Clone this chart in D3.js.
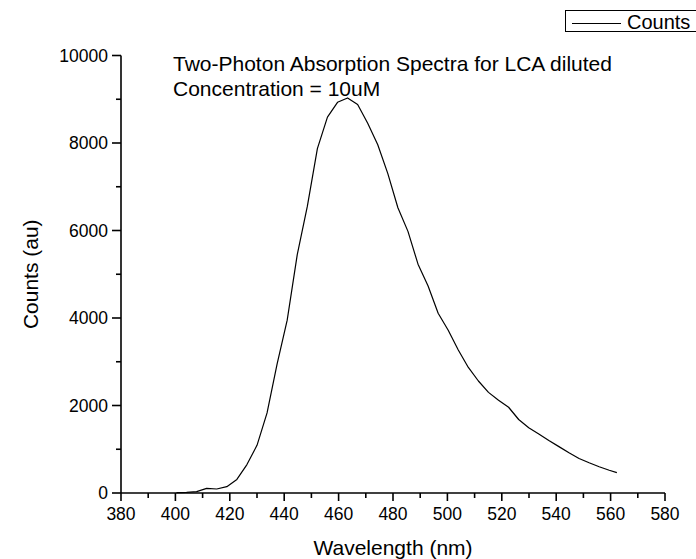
<!DOCTYPE html>
<html>
<head>
<meta charset="utf-8">
<script src="https://cdn.jsdelivr.net/npm/d3@7"></script>
<style>
  html, body { margin: 0; padding: 0; background: #fff; }
  svg { display: block; font-family: "Liberation Sans", Arial, sans-serif; }
</style>
</head>
<body>
<svg id="chart" width="696" height="559"></svg>
<script>
// Emission spectrum: wavelength (nm) and detector counts
const wavelength = [400.4, 404.1, 407.8, 411.5, 415.2, 418.9, 422.6, 426.3, 430.0, 433.7,
  437.4, 441.1, 444.8, 448.5, 452.2, 455.9, 459.6, 463.3, 467.0, 470.7,
  474.4, 478.1, 481.8, 485.5, 489.2, 492.9, 496.6, 500.3, 504.0, 507.7,
  511.4, 515.1, 518.8, 522.5, 526.2, 529.9, 533.6, 537.3, 541.0, 544.7,
  548.4, 552.1, 555.8, 559.5, 562.3];
const counts = [10, 15, 30, 105, 92, 145, 310, 650, 1090, 1830,
  2950, 3950, 5450, 6550, 7870, 8590, 8930, 9030, 8880, 8450,
  7960, 7300, 6520, 5980, 5230, 4730, 4110, 3720, 3270, 2870,
  2560, 2300, 2120, 1960, 1680, 1490, 1350, 1200, 1060, 920,
  790, 690, 600, 520, 465];
const xTicks = [380, 400, 420, 440, 460, 480, 500, 520, 540, 560, 580];
const yTicks = [0, 2000, 4000, 6000, 8000, 10000];
const titleLines = ["Two-Photon Absorption Spectra for LCA diluted", "Concentration = 10uM"];
const seriesName = "Counts";

const svg = d3.select("#chart");
const x = d3.scaleLinear().domain([380, 580]).range([121, 665]);
const y = d3.scaleLinear().domain([0, 10000]).range([493, 55.5]);

// minor ticks halfway between labelled ones
const xMinor = d3.range(390, 580, 20);
const yMinor = d3.range(1000, 10000, 2000);

const ink = "#000";

// X axis
const gx = svg.append("g").attr("transform", `translate(0,${y(0)})`);
gx.append("line").attr("x1", x(380)).attr("x2", x(580)).attr("stroke", ink).attr("stroke-width", 1.6);
gx.selectAll(".maj").data(xTicks).join("line")
  .attr("x1", d => x(d)).attr("x2", d => x(d)).attr("y1", 0).attr("y2", 8)
  .attr("stroke", ink).attr("stroke-width", 1.6);
gx.selectAll(".min").data(xMinor).join("line")
  .attr("x1", d => x(d)).attr("x2", d => x(d)).attr("y1", 0).attr("y2", 5)
  .attr("stroke", ink).attr("stroke-width", 1.6);
gx.selectAll("text").data(xTicks).join("text")
  .attr("x", d => x(d)).attr("y", 26.5)
  .attr("text-anchor", "middle").attr("font-size", 17.5).attr("fill", ink)
  .text(d => d);

// Y axis
const gy = svg.append("g").attr("transform", `translate(${x(380)},0)`);
gy.append("line").attr("y1", y(0)).attr("y2", y(10000)).attr("stroke", ink).attr("stroke-width", 1.6);
gy.selectAll(".maj").data(yTicks).join("line")
  .attr("y1", d => y(d)).attr("y2", d => y(d)).attr("x1", 0).attr("x2", -9)
  .attr("stroke", ink).attr("stroke-width", 1.6);
gy.selectAll(".min").data(yMinor).join("line")
  .attr("y1", d => y(d)).attr("y2", d => y(d)).attr("x1", 0).attr("x2", -5)
  .attr("stroke", ink).attr("stroke-width", 1.6);
gy.selectAll("text").data(yTicks).join("text")
  .attr("x", -13).attr("y", d => y(d) + 6.3)
  .attr("text-anchor", "end").attr("font-size", 17.5).attr("fill", ink)
  .text(d => d);

// Axis titles
svg.append("text").attr("x", 393).attr("y", 555)
  .attr("text-anchor", "middle").attr("font-size", 21).attr("fill", ink)
  .text("Wavelength (nm)");
svg.append("text")
  .attr("transform", `translate(38,${y(5000)}) rotate(-90)`)
  .attr("text-anchor", "middle").attr("font-size", 21).attr("fill", ink)
  .text("Counts (au)");

// Spectrum line
const pts = wavelength.map((w, i) => [w, counts[i]]);
svg.append("path").datum(pts)
  .attr("fill", "none").attr("stroke", ink).attr("stroke-width", 1.2)
  .attr("stroke-linejoin", "round")
  .attr("d", d3.line().x(d => x(d[0])).y(d => y(d[1])));

// Title block
svg.selectAll(".title").data(titleLines).join("text")
  .attr("x", 173).attr("y", (d, i) => 71 + i * 25)
  .attr("font-size", 21).attr("fill", ink)
  .text(d => d);

// Legend
const lg = svg.append("g");
lg.append("rect").attr("x", 565.5).attr("y", 10.5).attr("width", 140).attr("height", 21)
  .attr("fill", "#fff").attr("stroke", ink).attr("stroke-width", 1);
lg.append("line").attr("x1", 572).attr("x2", 621).attr("y1", 23.5).attr("y2", 23.5)
  .attr("stroke", ink).attr("stroke-width", 1);
lg.append("text").attr("x", 627).attr("y", 29).attr("font-size", 20).attr("fill", ink)
  .text(seriesName);
</script>
</body>
</html>
